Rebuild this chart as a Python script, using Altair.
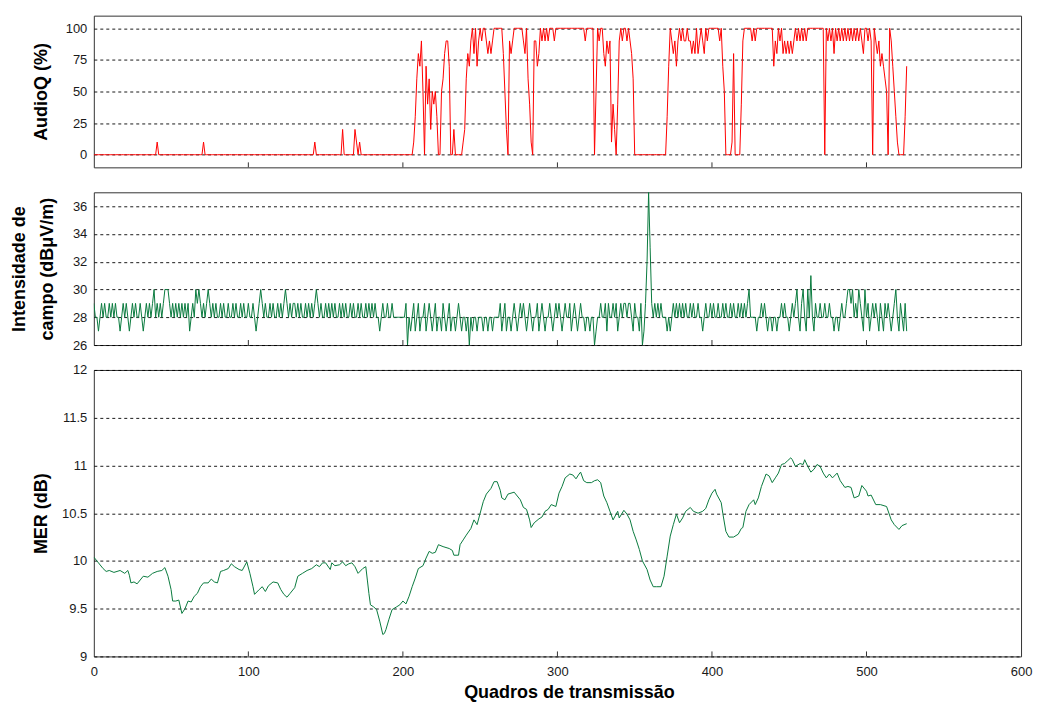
import altair as alt
import pandas as pd

# AudioQ (%) for every transmission frame, 0..526
audioq = [
    0, 0, 0, 0, 0, 0, 0, 0, 0, 0, 0, 0, 0, 0, 0, 0, 0, 0, 0, 0,
    0, 0, 0, 0, 0, 0, 0, 0, 0, 0, 0, 0, 0, 0, 0, 0, 0, 0, 0, 0,
    0, 10, 0, 0, 0, 0, 0, 0, 0, 0, 0, 0, 0, 0, 0, 0, 0, 0, 0, 0,
    0, 0, 0, 0, 0, 0, 0, 0, 0, 0, 0, 10, 0, 0, 0, 0, 0, 0, 0, 0,
    0, 0, 0, 0, 0, 0, 0, 0, 0, 0, 0, 0, 0, 0, 0, 0, 0, 0, 0, 0,
    0, 0, 0, 0, 0, 0, 0, 0, 0, 0, 0, 0, 0, 0, 0, 0, 0, 0, 0, 0,
    0, 0, 0, 0, 0, 0, 0, 0, 0, 0, 0, 0, 0, 0, 0, 0, 0, 0, 0, 0,
    0, 0, 0, 10, 0, 0, 0, 0, 0, 0, 0, 0, 0, 0, 0, 0, 0, 0, 0, 0,
    0, 20, 0, 0, 0, 0, 0, 0, 0, 20, 10, 0, 10, 0, 0, 0, 0, 0, 0, 0,
    0, 0, 0, 0, 0, 0, 0, 0, 0, 0, 0, 0, 0, 0, 0, 0, 0, 0, 0, 0,
    0, 0, 0, 0, 0, 0, 0, 10, 30, 60, 80, 70, 90, 50, 0, 70, 40, 60, 20, 50,
    40, 50, 30, 0, 0, 50, 60, 80, 90, 90, 70, 0, 0, 20, 0, 0, 0, 0, 0, 10,
    20, 60, 80, 70, 90, 100, 80, 100, 70, 90, 100, 90, 100, 100, 90, 80, 90, 80, 90, 100,
    100, 100, 100, 100, 100, 80, 50, 20, 0, 90, 80, 90, 100, 100, 100, 100, 100, 100, 90, 80,
    100, 60, 40, 10, 0, 90, 90, 70, 80, 100, 90, 100, 90, 100, 90, 100, 100, 100, 90, 100,
    100, 100, 100, 100, 100, 100, 100, 100, 100, 100, 100, 100, 100, 100, 100, 100, 100, 100, 90, 100,
    100, 100, 100, 100, 0, 50, 100, 90, 100, 100, 80, 70, 90, 80, 90, 10, 40, 20, 0, 40,
    90, 100, 90, 100, 100, 90, 100, 90, 80, 60, 0, 0, 0, 0, 0, 0, 0, 0, 0, 0,
    0, 0, 0, 0, 0, 0, 0, 0, 0, 0, 0, 30, 70, 100, 90, 80, 90, 70, 90, 100,
    90, 100, 90, 90, 100, 90, 90, 80, 90, 80, 100, 80, 90, 100, 90, 80, 100, 90, 100, 100,
    100, 100, 100, 100, 100, 90, 100, 70, 50, 0, 0, 0, 0, 10, 80, 0, 0, 0, 0, 40,
    90, 100, 100, 100, 100, 100, 90, 100, 90, 100, 100, 100, 100, 100, 100, 100, 100, 100, 100, 100,
    70, 90, 80, 100, 90, 100, 80, 90, 80, 90, 80, 90, 80, 90, 100, 90, 100, 90, 100, 90,
    100, 90, 100, 100, 100, 100, 100, 100, 100, 100, 100, 100, 100, 0, 100, 90, 100, 90, 100, 80,
    100, 90, 100, 90, 100, 90, 100, 90, 100, 90, 100, 90, 100, 90, 100, 90, 100, 90, 80, 100,
    100, 90, 100, 90, 0, 100, 90, 80, 90, 70, 80, 70, 60, 50, 0, 100, 90, 70, 50, 30,
    10, 0, 0, 0, 0, 30, 70,
]

# Field strength (dBuV/m) for every transmission frame, 0..526
campo = [
    29, 28, 28, 27, 28, 29, 28, 29, 28, 28, 29, 28, 29, 28, 29, 28, 28, 27, 28, 29,
    28, 29, 28, 27, 28, 29, 28, 29, 28, 28, 29, 28, 27, 28, 29, 28, 29, 28, 29, 30,
    28, 29, 28, 29, 28, 29, 30, 30, 30, 29, 28, 29, 28, 29, 28, 29, 28, 29, 28, 29,
    28, 29, 27, 28, 29, 28, 30, 29, 30, 29, 28, 29, 28, 29, 30, 29, 28, 29, 28, 29,
    28, 28, 29, 28, 29, 28, 28, 29, 28, 28, 29, 28, 29, 28, 28, 29, 28, 29, 28, 28,
    29, 28, 28, 29, 28, 27, 28, 29, 30, 29, 28, 29, 28, 28, 29, 28, 29, 28, 28, 29,
    28, 29, 28, 29, 30, 29, 28, 29, 28, 29, 29, 28, 29, 28, 29, 28, 28, 29, 28, 29,
    28, 29, 28, 29, 30, 29, 28, 29, 28, 28, 29, 28, 29, 28, 29, 28, 29, 28, 28, 29,
    28, 29, 28, 29, 28, 28, 29, 28, 29, 28, 28, 29, 28, 29, 28, 28, 29, 28, 29, 28,
    29, 28, 29, 28, 28, 27, 28, 29, 28, 28, 29, 28, 28, 29, 28, 28, 28, 28, 28, 28,
    28, 28, 29, 26, 28, 27, 28, 29, 27, 28, 29, 27, 28, 28, 29, 27, 28, 29, 28, 27,
    28, 29, 27, 28, 28, 27, 29, 28, 27, 28, 29, 27, 28, 28, 27, 28, 29, 28, 27, 28,
    28, 27, 28, 26, 28, 27, 28, 28, 27, 28, 28, 28, 27, 28, 28, 27, 28, 28, 27, 28,
    28, 28, 28, 29, 27, 28, 29, 27, 28, 28, 27, 28, 29, 28, 27, 28, 29, 28, 29, 28,
    27, 28, 29, 28, 27, 28, 28, 29, 27, 28, 29, 28, 27, 28, 28, 29, 28, 27, 28, 29,
    28, 29, 28, 27, 28, 29, 28, 28, 29, 27, 28, 29, 28, 27, 28, 29, 28, 28, 27, 28,
    28, 27, 28, 28, 26, 27, 28, 28, 29, 28, 28, 29, 27, 29, 28, 28, 29, 28, 29, 27,
    28, 29, 28, 29, 29, 28, 29, 29, 28, 27, 29, 28, 28, 27, 29, 26, 27, 29, 32, 37,
    33, 29, 28, 29, 28, 29, 28, 29, 28, 28, 28, 27, 28, 27, 28, 29, 28, 29, 28, 29,
    28, 29, 28, 29, 28, 28, 29, 28, 29, 28, 28, 29, 28, 28, 27, 28, 29, 28, 28, 29,
    28, 29, 28, 28, 29, 28, 28, 29, 28, 29, 28, 28, 29, 28, 29, 28, 28, 29, 28, 29,
    28, 29, 28, 29, 30, 28, 28, 28, 28, 27, 28, 28, 29, 28, 29, 28, 27, 28, 28, 27,
    28, 28, 27, 28, 28, 29, 28, 29, 28, 28, 27, 28, 29, 28, 29, 30, 28, 27, 29, 30,
    28, 27, 30, 28, 31, 28, 27, 29, 28, 28, 29, 28, 28, 29, 28, 28, 29, 28, 28, 27,
    28, 28, 27, 28, 29, 28, 28, 29, 30, 30, 29, 30, 28, 29, 28, 30, 29, 28, 27, 30,
    28, 29, 27, 28, 29, 28, 29, 28, 27, 29, 28, 27, 29, 28, 29, 28, 27, 28, 29, 30,
    28, 27, 29, 28, 27, 29, 27,
]

# MER (dB) sampled along the frame axis
mer_frame = [
    0, 3, 6, 8, 10, 13, 17, 20, 22, 23, 24, 26, 28, 32, 35, 38, 41, 44, 46, 48,
    50, 51, 53, 55, 57, 59, 61, 63, 65, 67, 69, 71, 74, 76, 78, 80, 82, 84, 87, 89,
    91, 94, 96, 99, 101, 103, 104, 107, 109, 111, 113, 116, 119, 121, 123, 125, 127, 130, 132, 135,
    138, 141, 144, 146, 148, 150, 153, 154, 156, 159, 161, 163, 165, 167, 169, 171, 174, 176, 177, 178,
    179, 181, 183, 185, 187, 188, 189, 191, 193, 196, 198, 200, 202, 204, 206, 208, 210, 213, 215, 217,
    219, 221, 223, 226, 230, 232, 233, 236, 237, 239, 241, 244, 246, 248, 250, 252, 254, 257, 259, 261,
    263, 264, 266, 268, 272, 274, 276, 278, 280, 282, 283, 285, 288, 290, 292, 294, 296, 299, 301, 303,
    305, 308, 310, 312, 314, 315, 317, 319, 322, 324, 326, 328, 330, 332, 334, 336, 338, 339, 340, 343,
    345, 347, 349, 351, 353, 355, 358, 360, 362, 364, 367, 369, 371, 373, 375, 377, 379, 381, 383, 386,
    388, 391, 394, 396, 398, 400, 402, 403, 406, 407, 409, 411, 414, 417, 419, 420, 422, 424, 427, 428,
    430, 432, 435, 437, 439, 441, 443, 445, 447, 449, 451, 452, 454, 457, 459, 460, 462, 464, 466, 468,
    470, 472, 474, 476, 478, 481, 483, 486, 488, 490, 492, 495, 497, 500, 501, 503, 506, 509, 513, 516,
    518, 521, 523, 526,
]
mer_db = [
    10.04, 9.98, 9.92, 9.89, 9.90, 9.88, 9.90, 9.87, 9.90, 9.85, 9.77, 9.78, 9.76, 9.84, 9.83, 9.87, 9.89, 9.90, 9.93, 9.84,
    9.70, 9.58, 9.58, 9.59, 9.45, 9.50, 9.58, 9.57, 9.63, 9.66, 9.73, 9.77, 9.77, 9.81, 9.78, 9.77, 9.89, 9.90, 9.92, 9.97,
    9.94, 9.91, 9.90, 9.99, 9.87, 9.73, 9.65, 9.70, 9.73, 9.68, 9.74, 9.78, 9.77, 9.70, 9.65, 9.62, 9.66, 9.72, 9.84, 9.87,
    9.90, 9.92, 9.96, 9.94, 9.98, 9.98, 9.91, 9.98, 9.95, 9.96, 9.99, 9.95, 9.97, 9.98, 9.94, 9.87, 9.92, 9.94, 9.80, 9.66,
    9.54, 9.52, 9.49, 9.37, 9.23, 9.24, 9.28, 9.39, 9.49, 9.52, 9.54, 9.58, 9.55, 9.63, 9.73, 9.82, 9.92, 9.95, 10.03, 10.10,
    10.08, 10.09, 10.17, 10.15, 10.13, 10.11, 10.06, 10.06, 10.17, 10.22, 10.27, 10.34, 10.43, 10.38, 10.50, 10.62, 10.70, 10.76, 10.83, 10.83,
    10.74, 10.66, 10.64, 10.70, 10.72, 10.68, 10.64, 10.56, 10.54, 10.43, 10.35, 10.40, 10.44, 10.46, 10.52, 10.54, 10.59, 10.57, 10.71, 10.78,
    10.87, 10.91, 10.90, 10.86, 10.91, 10.93, 10.84, 10.82, 10.82, 10.84, 10.85, 10.82, 10.68, 10.61, 10.52, 10.43, 10.49, 10.52, 10.45, 10.53,
    10.49, 10.43, 10.31, 10.22, 10.12, 10.00, 9.91, 9.80, 9.73, 9.73, 9.73, 9.84, 10.05, 10.26, 10.38, 10.49, 10.40, 10.45, 10.52, 10.56,
    10.52, 10.50, 10.52, 10.55, 10.64, 10.71, 10.75, 10.70, 10.61, 10.50, 10.31, 10.25, 10.25, 10.28, 10.34, 10.35, 10.52, 10.59, 10.64, 10.59,
    10.66, 10.78, 10.91, 10.89, 10.82, 10.87, 10.92, 11.01, 11.02, 11.05, 11.08, 11.06, 10.99, 11.02, 11.01, 11.06, 10.99, 10.93, 10.96, 11.01,
    10.99, 10.92, 10.87, 10.91, 10.87, 10.92, 10.84, 10.77, 10.78, 10.77, 10.66, 10.68, 10.79, 10.73, 10.68, 10.69, 10.59, 10.59, 10.57, 10.43,
    10.38, 10.33, 10.37, 10.39,
]

x_tick_marks = [100, 200, 300, 400, 500]
x_labels = [0, 100, 200, 300, 400, 500, 600]
audio_ticks = [0, 25, 50, 75, 100]
campo_ticks = [26, 28, 30, 32, 34, 36]
mer_ticks = [9, 9.5, 10, 10.5, 11, 11.5, 12]

W = 929
H_TOP, H_MID, H_BOT = 152, 153, 287
FONT = "Liberation Sans"
RED = "#ff0000"
GREEN = "#0a7a3e"

audio_df = pd.DataFrame({"frame": list(range(len(audioq))), "v": audioq})
campo_df = pd.DataFrame({"frame": list(range(len(campo))), "v": campo})
mer_df = pd.DataFrame({"frame": mer_frame, "v": mer_db})
tick_df = pd.DataFrame({"frame": x_tick_marks})

x_scale = alt.Scale(domain=[0, 600], nice=False, zero=False)


def y_axis(values, title, height, title_x=-52, line_height=28):
    return alt.Axis(
        values=values,
        labelExpr="'' + datum.value",
        grid=True,
        ticks=False,
        domain=False,
        labelPadding=7,
        title=title,
        titleAngle=-90,
        titleX=title_x,
        titleY=height / 2,
        titleAlign="center",
        titleBaseline="middle",
        titleLineHeight=line_height,
    )


def panel(df, color, y_scale, axis, height, x_axis):
    x_enc = alt.X("frame:Q", scale=x_scale, axis=x_axis)
    line = alt.Chart(df).mark_line(color=color, strokeWidth=1, clip=True).encode(
        x=x_enc,
        y=alt.Y("v:Q", scale=y_scale, axis=axis),
    )
    # short tick marks drawn upward from the bottom frame edge
    ticks = alt.Chart(tick_df).mark_rule(color="#333333", strokeWidth=1).encode(
        x=x_enc,
        y=alt.value(height),
        y2=alt.value(height - 5),
    )
    return alt.layer(line, ticks).properties(width=W, height=height)


top = panel(
    audio_df, RED,
    alt.Scale(domain=[-10, 110], nice=False, zero=False),
    y_axis(audio_ticks, "AudioQ (%)", H_TOP),
    H_TOP, None,
)

mid = panel(
    campo_df, GREEN,
    alt.Scale(domain=[26, 37], nice=False, zero=False),
    y_axis(campo_ticks, ["Intensidade de", "campo (dBμV/m)"], H_MID, title_x=-74),
    H_MID, None,
)

bottom_x_axis = alt.Axis(
    values=x_labels,
    ticks=False,
    domain=False,
    grid=False,
    labelPadding=9,
    labelFlush=False,
    title="Quadros de transmissão",
    titlePadding=5,
    titleX=476,
)

bot = panel(
    mer_df, GREEN,
    alt.Scale(domain=[9, 12], nice=False, zero=False),
    y_axis(mer_ticks, "MER (dB)", H_BOT),
    H_BOT, bottom_x_axis,
)

chart = (
    alt.vconcat(top, mid, bot, spacing=25, bounds="flush")
    .properties(padding={"left": 10, "top": 14, "right": 5, "bottom": 5}, background="white")
    .configure_view(stroke="#333333", strokeWidth=1)
    .configure_axis(
        labelFont=FONT,
        labelFontSize=13,
        labelColor="#1a1a1a",
        titleFont=FONT,
        titleFontSize=18,
        titleFontWeight="bold",
        titleColor="#000000",
        gridColor="#000000",
        gridOpacity=0.9,
        gridDash=[3, 3],
        gridWidth=1,
    )
)

chart.save("out.html", embed_options={"renderer": "svg", "actions": False})
